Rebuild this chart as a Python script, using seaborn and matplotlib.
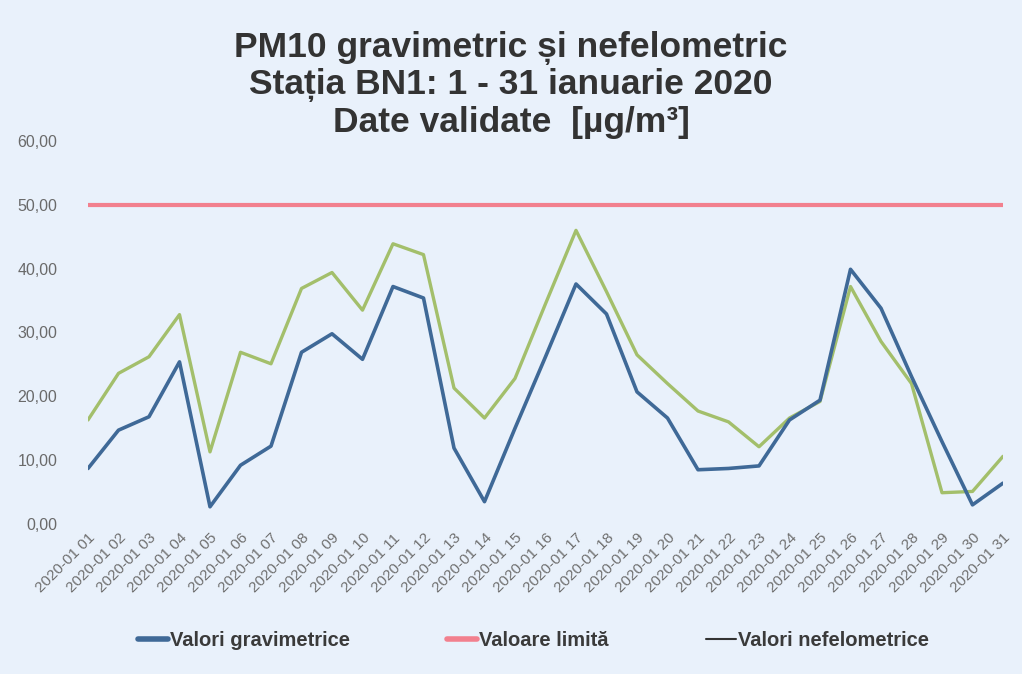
import pandas as pd
import seaborn as sns
import matplotlib.pyplot as plt
from matplotlib.lines import Line2D

# Values (ug/m3), January 2020, station BN1
days = list(range(1, 32))
date_labels = ["2020-01 %02d" % d for d in days]
gravimetric = [8.7, 14.7, 16.8, 25.4, 2.7, 9.2, 12.2, 26.9, 29.8, 25.8,
               37.2, 35.4, 11.9, 3.5, 15.0, 26.2, 37.6, 32.9, 20.7, 16.6,
               8.5, 8.7, 9.1, 16.3, 19.4, 39.9, 33.8, 23.1, 12.9, 3.0, 6.4]
nefelometric = [16.3, 23.6, 26.2, 32.8, 11.3, 26.9, 25.1, 36.9, 39.4, 33.5,
                43.9, 42.2, 21.3, 16.6, 22.8, 34.5, 46.0, 36.4, 26.5, 22.0,
                17.7, 16.0, 12.1, 16.6, 19.2, 37.2, 28.6, 22.0, 4.9, 5.1, 10.6]
limit_value = [50.0] * 31
y_ticks = [0, 10, 20, 30, 40, 50, 60]

df = pd.DataFrame({"day": days, "grav": gravimetric,
                   "nef": nefelometric, "lim": limit_value})

sns.set_style("white")
plt.rcParams['font.family'] = ['Liberation Sans', 'DejaVu Sans']

bg = "#e9f1fb"
blue = "#3f6997"
green = "#a3bf6b"
pink = "#f2808e"

fig = plt.figure(figsize=(10.22, 6.74), dpi=100, facecolor=bg)
ax = fig.add_axes([88 / 1022, 150 / 674, 915 / 1022, 383 / 674])
ax.set_facecolor(bg)

sns.lineplot(data=df, x="day", y="lim", color=pink, linewidth=3, ax=ax)
sns.lineplot(data=df, x="day", y="nef", color=green, linewidth=2.4, ax=ax)
sns.lineplot(data=df, x="day", y="grav", color=blue, linewidth=2.6, ax=ax)

ax.set_xlim(1, 31)
ax.set_ylim(0, 60)
ax.set_xticks(days)
ax.set_xticklabels(date_labels, rotation=45, ha="right", rotation_mode="anchor",
                   fontsize=11, color="#707070")
ax.set_yticks(y_ticks)
ax.yaxis.set_major_formatter(plt.FuncFormatter(lambda v, p: ("%.2f" % v).replace(".", ",")))
ax.tick_params(axis="y", length=0, pad=22, labelsize=11.5, labelcolor="#6a6a6a")
ax.tick_params(axis="x", length=0, pad=5)
ax.set_xlabel("")
ax.set_ylabel("")
for s in ax.spines.values():
    s.set_visible(False)

fig.text(0.5, 1 - 85 / 674,
         "PM10 gravimetric și nefelometric\nStația BN1: 1 - 31 ianuarie 2020\nDate validate  [µg/m³]",
         ha="center", va="center", fontsize=25.5, fontweight="bold", color="#333333",
         linespacing=1.13)

handles = [Line2D([], [], color=blue, linewidth=4),
           Line2D([], [], color=pink, linewidth=4),
           Line2D([], [], color="#333333", linewidth=1.5)]
labels = ["Valori gravimetrice", "Valoare limită", "Valori nefelometrice"]
fig.legend(handles, labels, loc="center", bbox_to_anchor=(0.522, 1 - 641 / 674),
           ncol=3, frameon=False, handlelength=1.5, handletextpad=0.1,
           columnspacing=4.8, prop={"size": 14.5, "weight": "bold"},
           labelcolor="#3a3a3a")

fig.savefig("out.png", dpi=100, facecolor=bg)
